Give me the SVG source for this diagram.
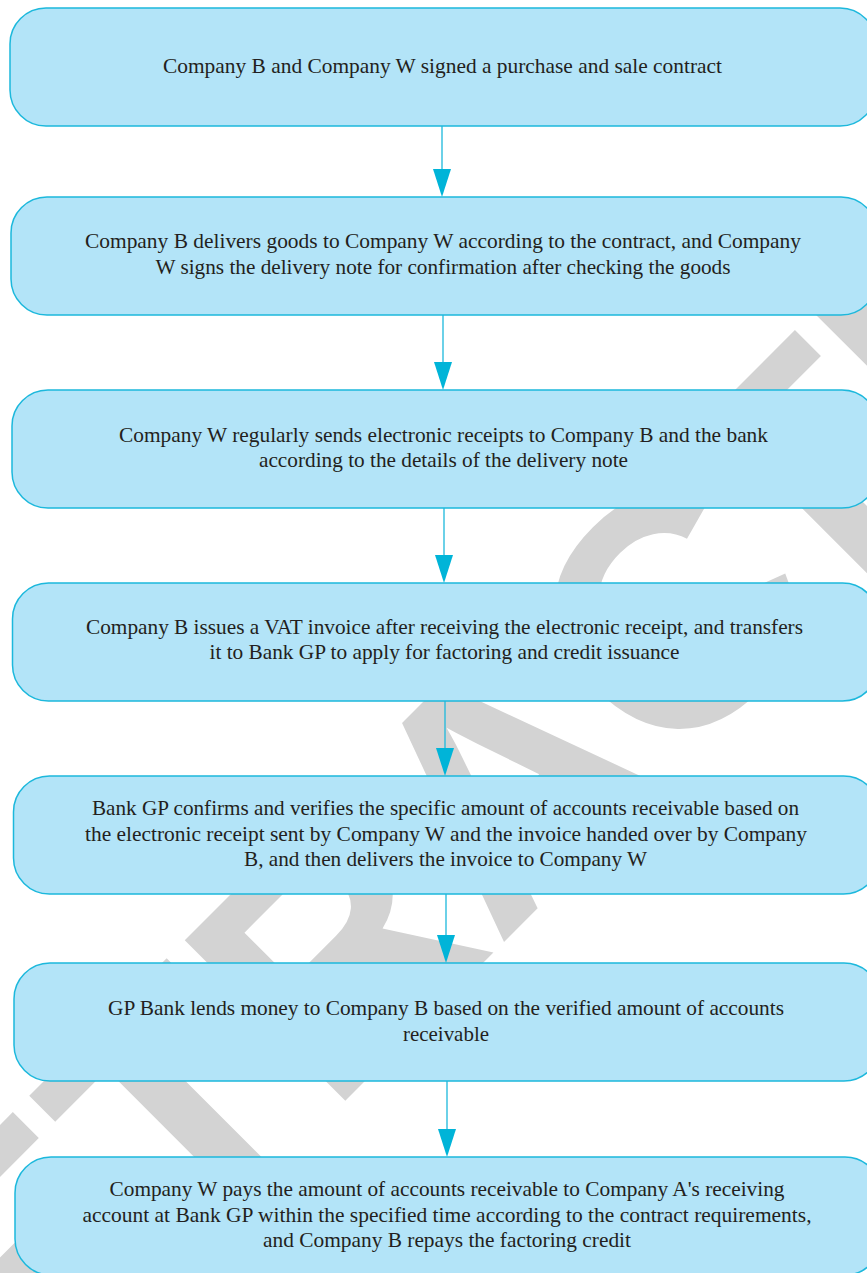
<svg xmlns="http://www.w3.org/2000/svg" width="867" height="1273" viewBox="0 0 867 1273">
<defs>
<style>
.box{fill:#b3e4f8;stroke:#1cb8dc;stroke-width:1.5}
.t{font-family:"Liberation Serif","Times New Roman",serif;font-size:21px;fill:#231f20;text-anchor:middle}
.wm{font-family:"Liberation Sans",Arial,sans-serif;font-weight:bold;font-size:330px;fill:#d3d3d3}
.conn{stroke:#1cb8dc;stroke-width:1.3;fill:none}
.head{fill:#00b4d8}
</style>
</defs>
<rect width="867" height="1273" fill="#ffffff"/>
<g id="watermark">
<text class="wm" transform="translate(-137 1583) rotate(-45)" x="0" y="0">RETRAC<tspan dx="-28">TED</tspan></text>
</g>
<g id="connectors">
<line class="conn" x1="442" y1="126" x2="442" y2="172"/>
<polygon class="head" points="433,169 451,169 442,197"/>
<line class="conn" x1="443" y1="315" x2="443" y2="365"/>
<polygon class="head" points="434,362 452,362 443,390"/>
<line class="conn" x1="444" y1="508" x2="444" y2="558"/>
<polygon class="head" points="435,555 453,555 444,583"/>
<line class="conn" x1="445" y1="701" x2="445" y2="751"/>
<polygon class="head" points="436,748 454,748 445,776"/>
<line class="conn" x1="446" y1="894" x2="446" y2="938"/>
<polygon class="head" points="437,935 455,935 446,963"/>
<line class="conn" x1="447" y1="1081" x2="447" y2="1132"/>
<polygon class="head" points="438,1129 456,1129 447,1157"/>
</g>
<g id="node1">
<rect class="box" x="10" y="8" width="866" height="118" rx="36"/>
<text class="t" x="442.5" y="73" textLength="559" lengthAdjust="spacingAndGlyphs">Company B and Company W signed a purchase and sale contract</text>
</g>
<g id="node2">
<rect class="box" x="11" y="197" width="866" height="118" rx="36"/>
<text class="t" x="443" y="248" textLength="716" lengthAdjust="spacingAndGlyphs">Company B delivers goods to Company W according to the contract, and Company</text>
<text class="t" x="443" y="274" textLength="575" lengthAdjust="spacingAndGlyphs">W signs the delivery note for confirmation after checking the goods</text>
</g>
<g id="node3">
<rect class="box" x="12" y="390" width="866" height="118" rx="36"/>
<text class="t" x="443.5" y="442" textLength="649" lengthAdjust="spacingAndGlyphs">Company W regularly sends electronic receipts to Company B and the bank</text>
<text class="t" x="443.5" y="467" textLength="369" lengthAdjust="spacingAndGlyphs">according to the details of the delivery note</text>
</g>
<g id="node4">
<rect class="box" x="12.5" y="583" width="866" height="118" rx="36"/>
<text class="t" x="444.5" y="634" textLength="717" lengthAdjust="spacingAndGlyphs">Company B issues a VAT invoice after receiving the electronic receipt, and transfers</text>
<text class="t" x="444.5" y="659" textLength="470" lengthAdjust="spacingAndGlyphs">it to Bank GP to apply for factoring and credit issuance</text>
</g>
<g id="node5">
<rect class="box" x="13.5" y="776" width="866" height="118" rx="36"/>
<text class="t" x="445.5" y="815" textLength="707" lengthAdjust="spacingAndGlyphs">Bank GP confirms and verifies the specific amount of accounts receivable based on</text>
<text class="t" x="446" y="841" textLength="722" lengthAdjust="spacingAndGlyphs">the electronic receipt sent by Company W and the invoice handed over by Company</text>
<text class="t" x="445.5" y="866" textLength="403" lengthAdjust="spacingAndGlyphs">B, and then delivers the invoice to Company W</text>
</g>
<g id="node6">
<rect class="box" x="14" y="963" width="866" height="118" rx="36"/>
<text class="t" x="446" y="1015" textLength="676" lengthAdjust="spacingAndGlyphs">GP Bank lends money to Company B based on the verified amount of accounts</text>
<text class="t" x="446" y="1041" textLength="86" lengthAdjust="spacingAndGlyphs">receivable</text>
</g>
<g id="node7">
<rect class="box" x="15" y="1157" width="866" height="118" rx="36"/>
<text class="t" x="447" y="1196" textLength="675" lengthAdjust="spacingAndGlyphs">Company W pays the amount of accounts receivable to Company A's receiving</text>
<text class="t" x="447" y="1222" textLength="729" lengthAdjust="spacingAndGlyphs">account at Bank GP within the specified time according to the contract requirements,</text>
<text class="t" x="447" y="1247" textLength="368" lengthAdjust="spacingAndGlyphs">and Company B repays the factoring credit</text>
</g>
</svg>
